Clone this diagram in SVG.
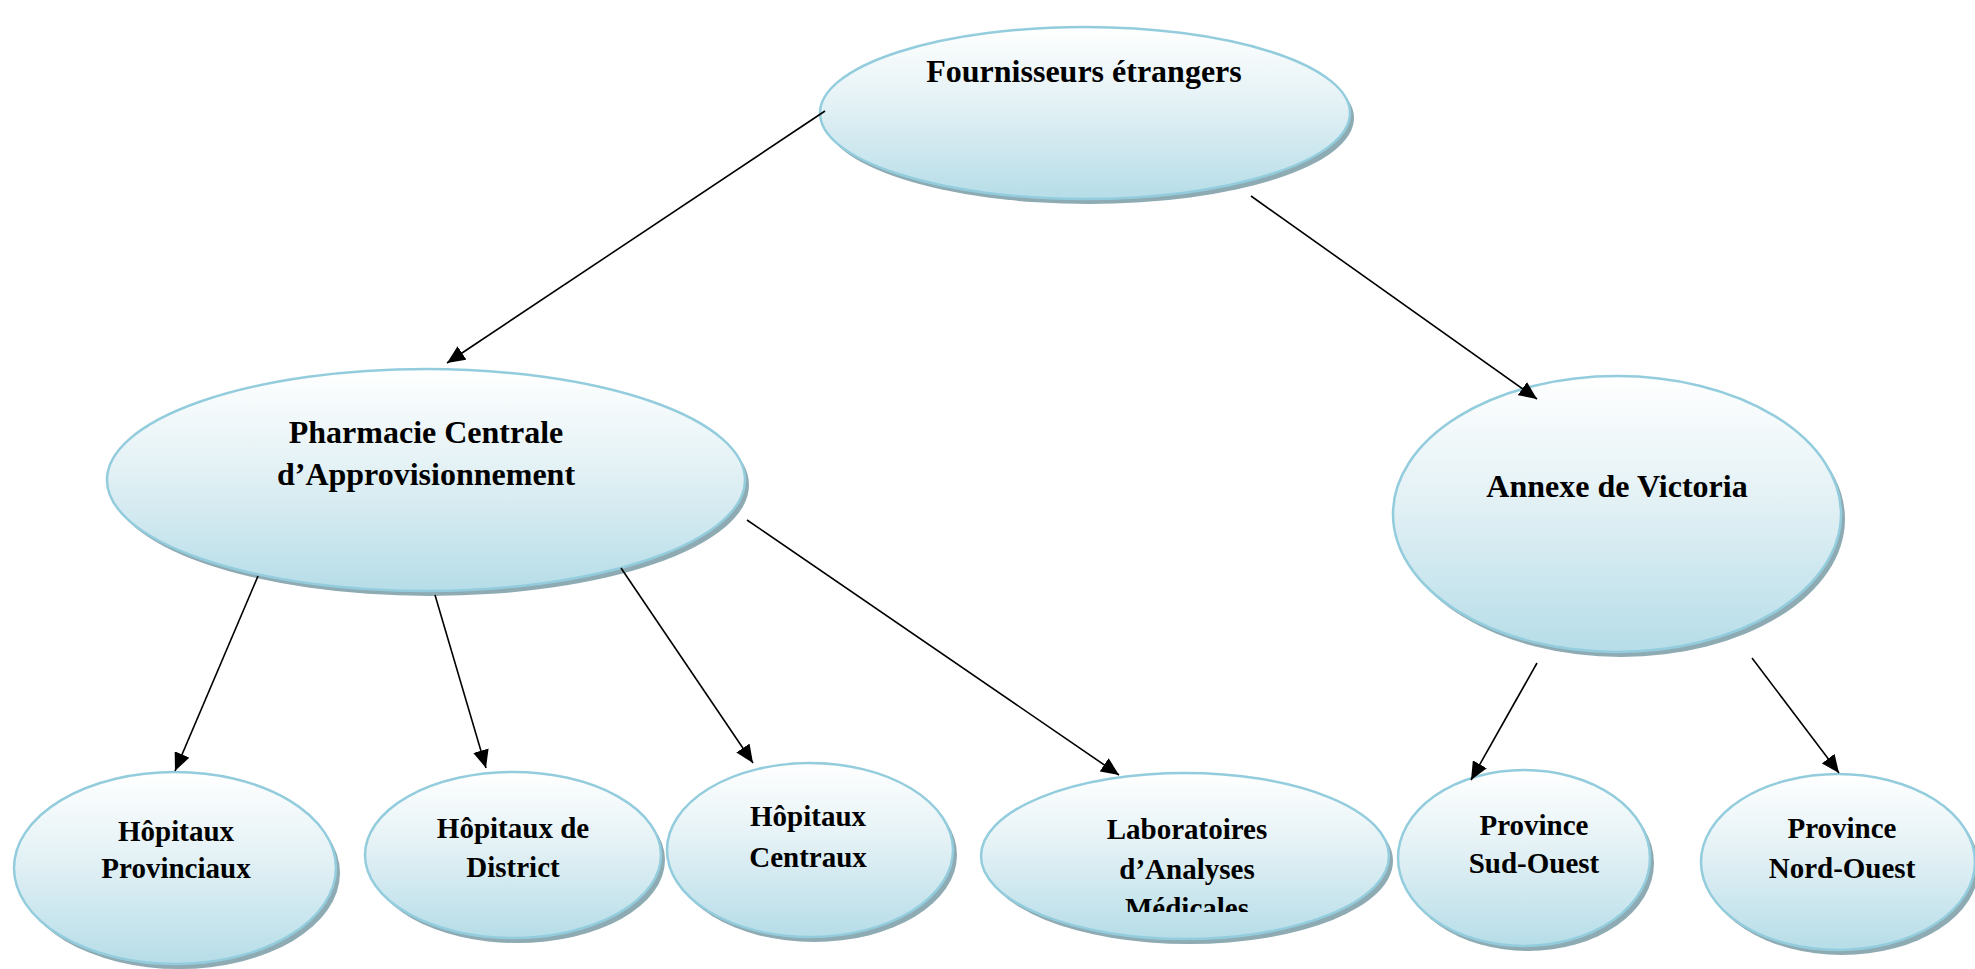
<svg xmlns="http://www.w3.org/2000/svg" width="1975" height="969" viewBox="0 0 1975 969">
<style>
.node ellipse.body{fill:url(#g);stroke:#93cddd;stroke-width:2.5}
.node ellipse.sh{fill:#8eaab3}
.t{font-family:"Liberation Serif","Times New Roman",serif;font-weight:bold;fill:#000;text-anchor:middle}
.big{font-size:32px}
.sm{font-size:29px}
.conn line{stroke:#000;stroke-width:1.6;marker-end:url(#ah)}
</style>
<defs>
<linearGradient id="g" x1="0" y1="0" x2="0" y2="1">
<stop offset="0" stop-color="#ffffff"/>
<stop offset="0.45" stop-color="#e3f1f5"/>
<stop offset="1" stop-color="#b6dde8"/>
</linearGradient>
<marker id="ah" markerWidth="20" markerHeight="16" refX="18" refY="8" orient="auto" markerUnits="userSpaceOnUse">
<path d="M0,0 L18,8 L0,16 Z" fill="#000"/>
</marker>
<clipPath id="labclip"><rect x="980" y="770" width="420" height="142"/></clipPath>
</defs>
<rect width="1975" height="969" fill="#fff"/>

<g id="fournisseurs" class="node">
<ellipse class="sh" cx="1089" cy="118" rx="265" ry="86"/>
<ellipse class="body" cx="1085" cy="113" rx="265" ry="86"/>
<text class="t big" x="1084" y="82">Fournisseurs étrangers</text>
</g>

<g id="pharmacie" class="node">
<ellipse class="sh" cx="430" cy="485" rx="319" ry="111"/>
<ellipse class="body" cx="426" cy="480" rx="319" ry="111"/>
<text class="t big" x="426" y="443">Pharmacie Centrale</text>
<text class="t big" x="426" y="485">d’Approvisionnement</text>
</g>

<g id="annexe" class="node">
<ellipse class="sh" cx="1621" cy="519" rx="224" ry="138"/>
<ellipse class="body" cx="1617" cy="514" rx="224" ry="138"/>
<text class="t big" x="1617" y="497">Annexe de Victoria</text>
</g>

<g id="hop-prov" class="node">
<ellipse class="sh" cx="179" cy="873" rx="161" ry="96"/>
<ellipse class="body" cx="175" cy="868" rx="161" ry="96"/>
<text class="t sm" x="176" y="841">Hôpitaux</text>
<text class="t sm" x="176" y="878">Provinciaux</text>
</g>

<g id="hop-dist" class="node">
<ellipse class="sh" cx="517" cy="860" rx="148" ry="83"/>
<ellipse class="body" cx="513" cy="855" rx="148" ry="83"/>
<text class="t sm" x="513" y="838">Hôpitaux de</text>
<text class="t sm" x="513" y="877">District</text>
</g>

<g id="hop-cent" class="node">
<ellipse class="sh" cx="814" cy="855" rx="143" ry="87"/>
<ellipse class="body" cx="810" cy="850" rx="143" ry="87"/>
<text class="t sm" x="808" y="826">Hôpitaux</text>
<text class="t sm" x="808" y="867">Centraux</text>
</g>

<g id="labo" class="node">
<ellipse class="sh" cx="1189" cy="861" rx="204" ry="83"/>
<ellipse class="body" cx="1185" cy="856" rx="204" ry="83"/>
<g clip-path="url(#labclip)">
<text class="t sm" x="1187" y="839">Laboratoires</text>
<text class="t sm" x="1187" y="879">d’Analyses</text>
<text class="t sm" x="1187" y="918">Médicales</text>
</g>
</g>

<g id="sud-ouest" class="node">
<ellipse class="sh" cx="1528" cy="863" rx="126" ry="88"/>
<ellipse class="body" cx="1524" cy="858" rx="126" ry="88"/>
<text class="t sm" x="1534" y="835">Province</text>
<text class="t sm" x="1534" y="873">Sud-Ouest</text>
</g>

<g id="nord-ouest" class="node">
<ellipse class="sh" cx="1842" cy="867" rx="137" ry="88"/>
<ellipse class="body" cx="1838" cy="862" rx="137" ry="88"/>
<text class="t sm" x="1842" y="838">Province</text>
<text class="t sm" x="1842" y="878">Nord-Ouest</text>
</g>

<g id="connectors" class="conn">
<line x1="825" y1="111" x2="447" y2="363"/>
<line x1="1251" y1="196" x2="1537" y2="399"/>
<line x1="258" y1="576" x2="175" y2="771"/>
<line x1="435" y1="595" x2="486" y2="768"/>
<line x1="621" y1="568" x2="753" y2="763"/>
<line x1="747" y1="520" x2="1119" y2="775"/>
<line x1="1537" y1="663" x2="1471" y2="780"/>
<line x1="1752" y1="658" x2="1839" y2="773"/>
</g>
</svg>
